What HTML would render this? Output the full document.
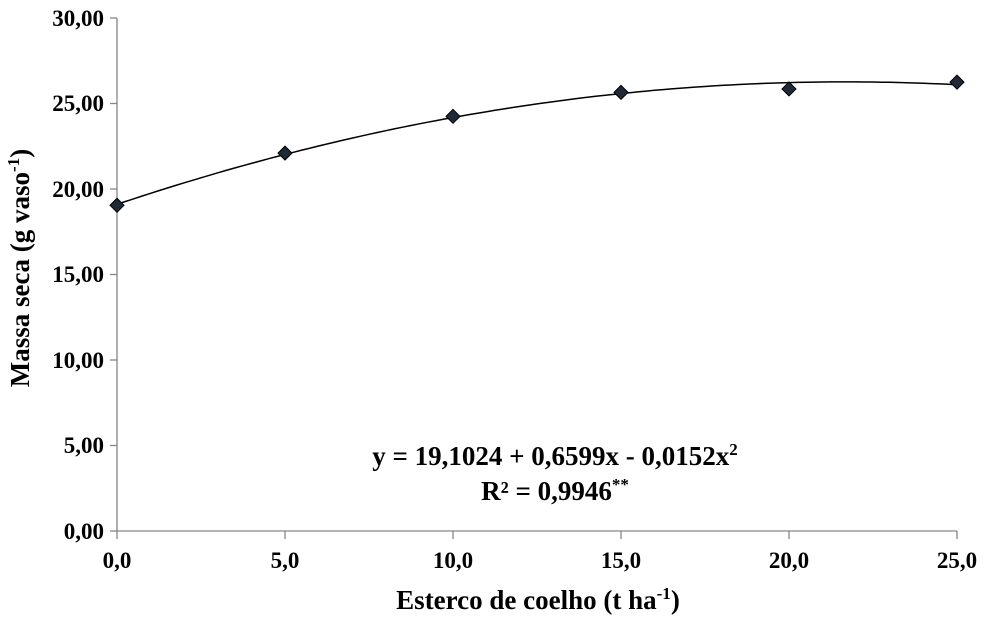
<!DOCTYPE html>
<html><head><meta charset="utf-8"><style>
body{margin:0;background:#fff}
svg{display:block}
text{font-family:"Liberation Serif",serif;font-weight:bold;fill:#000}
</style></head><body>
<svg id="s" width="989" height="619" xmlns="http://www.w3.org/2000/svg">
<g stroke="#868686" stroke-width="1.3" fill="none">
<line x1="117" y1="18" x2="117" y2="531"/>
<line x1="117" y1="531" x2="957" y2="531"/>
<line x1="110" y1="18" x2="117" y2="18"/>
<line x1="110" y1="103.5" x2="117" y2="103.5"/>
<line x1="110" y1="189" x2="117" y2="189"/>
<line x1="110" y1="274.5" x2="117" y2="274.5"/>
<line x1="110" y1="360" x2="117" y2="360"/>
<line x1="110" y1="445.5" x2="117" y2="445.5"/>
<line x1="110" y1="531" x2="117" y2="531"/>
<line x1="117" y1="531" x2="117" y2="539"/>
<line x1="285" y1="531" x2="285" y2="539"/>
<line x1="453" y1="531" x2="453" y2="539"/>
<line x1="621" y1="531" x2="621" y2="539"/>
<line x1="789" y1="531" x2="789" y2="539"/>
<line x1="957" y1="531" x2="957" y2="539"/>
</g>
<g font-size="23" text-anchor="end">
<text x="104" y="26">30,00</text>
<text x="104" y="111">25,00</text>
<text x="104" y="197">20,00</text>
<text x="104" y="282">15,00</text>
<text x="104" y="368">10,00</text>
<text x="104" y="453">5,00</text>
<text x="104" y="539">0,00</text>
</g>
<g font-size="23" text-anchor="middle">
<text x="117" y="568">0,0</text>
<text x="285" y="568">5,0</text>
<text x="453" y="568">10,0</text>
<text x="621" y="568">15,0</text>
<text x="789" y="568">20,0</text>
<text x="957" y="568">25,0</text>
</g>
<g font-size="27" text-anchor="middle">
<text x="538" y="609">Esterco de coelho (t ha<tspan font-size="17" dy="-10">-1</tspan><tspan dy="10">)</tspan></text>
<text x="555" y="465">y = 19,1024 + 0,6599x - 0,0152x<tspan font-size="17" dy="-10">2</tspan></text>
<text x="555" y="500">R² = 0,9946<tspan font-size="17" dy="-10">**</tspan></text>
</g>
<text font-size="27" text-anchor="middle" transform="translate(29,268) rotate(-90)">Massa seca (g vaso<tspan font-size="17" dy="-10">-1</tspan><tspan dy="10">)</tspan></text>
<path id="c" fill="none" stroke="#000" stroke-width="1.5"/>
<g id="m" fill="#1f2a36" stroke="#000" stroke-width="1"></g>
</svg>
<script>
var X=function(x){return 117+x*33.6},Y=function(v){return 531-v*17.1};
var d="";for(var i=0;i<=100;i++){var x=i*0.25,v=19.1024+0.6599*x-0.0152*x*x;d+=(i?"L":"M")+X(x).toFixed(1)+","+Y(v).toFixed(1);}
document.getElementById("c").setAttribute("d",d);
var pts=[[0,19.05],[5,22.1],[10,24.25],[15,25.65],[20,25.85],[25,26.25]],g=document.getElementById("m"),h="";
pts.forEach(function(p){var cx=X(p[0]),cy=Y(p[1]);h+='<polygon points="'+cx+','+(cy-7)+' '+(cx+7)+','+cy+' '+cx+','+(cy+7)+' '+(cx-7)+','+cy+'"/>';});
g.innerHTML=h;
</script>
</body></html>
